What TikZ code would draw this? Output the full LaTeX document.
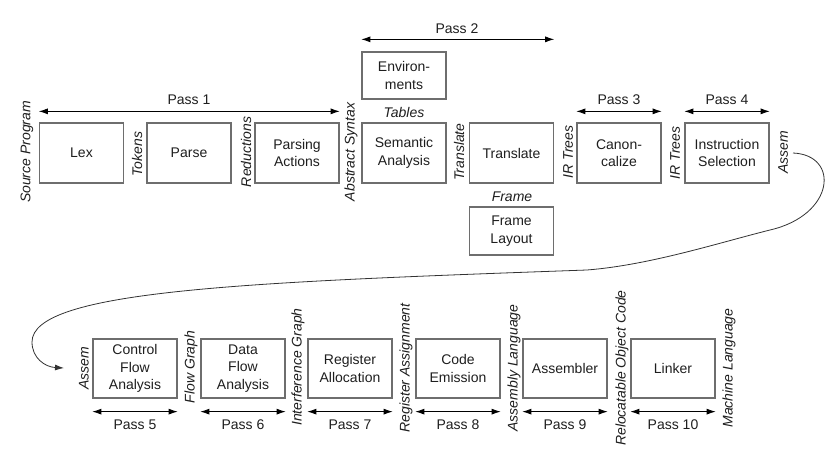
\documentclass[tikz,border=0pt]{standalone}
\usepackage{fontspec}
\setmainfont{Liberation Sans}
\usetikzlibrary{arrows.meta}
\definecolor{boxgray}{HTML}{6E6E6E}
\definecolor{txt}{HTML}{1E1E1E}
\begin{document}
\begin{tikzpicture}[x=1pt,y=-1pt,
  box/.style={draw=boxgray, line width=1.3pt, minimum width=84pt, minimum height=60pt,
    align=center, font=\fontsize{14}{17.5}\selectfont, text=txt, inner sep=0pt},
  lbox/.style={box, minimum height=59pt},
  sbox/.style={box, minimum height=47pt},
  vlab/.style={font=\fontsize{14}{17}\selectfont\itshape, text=txt, rotate=90, inner sep=0pt},
  hlab/.style={font=\fontsize{14}{17}\selectfont\itshape, text=txt, inner sep=0pt},
  plab/.style={font=\fontsize{14}{17}\selectfont, text=txt, inner sep=0pt},
  parr/.style={{Latex[length=9pt,width=6pt]}-{Latex[length=9pt,width=6pt]}, line width=0.8pt, black}]
\useasboundingbox (0,0) rectangle (840,462);
% top row
\node[box] (lex) at (81.5,153) {Lex};
\node[box] (parse) at (189,153) {Parse};
\node[box] (pact) at (297,153) {Parsing\\Actions};
\node[box] (sem) at (404,153) {Semantic\\Analysis};
\node[box] (trans) at (511.5,153) {Translate};
\node[box] (canon) at (619,153) {Canon-\\calize};
\node[box] (isel) at (727,153) {Instruction\\Selection};
\node[sbox, minimum height=47pt] (env) at (404,75.5) {Environ-\\ments};
\node[sbox, minimum height=48pt] (frame) at (511.5,231) {Frame\\Layout};
% top labels
\node[vlab] (l1) at (27,152) {Source Program};
\node[vlab] (l2) at (137,154) {Tokens};
\node[vlab] (l3) at (246,152) {Reductions};
\node[vlab] (l4) at (351,152) {Abstract Syntax};
\node[vlab] (l5) at (459,152) {Translate};
\node[vlab] (l6) at (568,152) {IR Trees};
\node[vlab] (l7) at (675,153) {IR Trees};
\node[vlab] (l8) at (783,152) {Assem};
\node[hlab] (tables) at (404,112) {Tables};
\node[hlab] (framel) at (512,197) {Frame};
% pass arrows top
\draw[parr] ([yshift=11pt]lex.north west) -- ([yshift=11pt]pact.north east);
\node[plab] (p1) at (189,100) {Pass 1};
\draw[parr] ([yshift=12pt]env.north west) -- ([yshift=12pt]env.north west -| trans.east);
\node[plab] (p2) at (457,29) {Pass 2};
\draw[parr] ([yshift=11pt]canon.north west) -- ([yshift=11pt]canon.north east);
\node[plab] (p3) at (619,100) {Pass 3};
\draw[parr] ([yshift=11pt]isel.north west) -- ([yshift=11pt]isel.north east);
\node[plab] (p4) at (727,100) {Pass 4};
% bottom row
\node[lbox] (cfa) at (135,368.5) {Control\\Flow\\Analysis};
\node[lbox] (dfa) at (243,368.5) {Data\\Flow\\Analysis};
\node[lbox] (ra) at (350,368.5) {Register\\Allocation};
\node[lbox] (ce) at (458,368.5) {Code\\Emission};
\node[lbox] (asm) at (565,368.5) {Assembler};
\node[lbox] (lnk) at (673,368.5) {Linker};
% bottom labels
\node[vlab] (b1) at (84,368) {Assem};
\node[vlab] (b2) at (191,367) {Flow Graph};
\node[vlab] (b3) at (298,367) {Interference Graph};
\node[vlab] (b4) at (406,368) {Register Assignment};
\node[vlab] (b5) at (514,368) {Assembly Language};
\node[vlab] (b6) at (622,368) {Relocatable Object Code};
\node[vlab] (b7) at (729,368) {Machine Language};
% bottom pass arrows
\foreach \b/\n in {cfa/5,dfa/6,ra/7,ce/8,asm/9,lnk/10}{
  \draw[parr] ([yshift=-13pt]\b.south west) -- ([yshift=-13pt]\b.south east);
  \node[plab] at ([yshift=-26pt]\b.south) {Pass \n};
}
% long curve
\coordinate (cs) at (793,153);
\coordinate (cend) at (64,368);
\draw[-{Latex[length=9pt,width=6pt]}, line width=0.8pt, black!80]
  (cs) .. controls (840,155) and (835,215) .. (770,230)
  .. controls (718,243) and (650,265) .. (587,270)
  .. controls (250,282) and (32,290) .. (32,342)
  .. controls (32,358) and (45,367) .. (cend);
\end{tikzpicture}
\end{document}
